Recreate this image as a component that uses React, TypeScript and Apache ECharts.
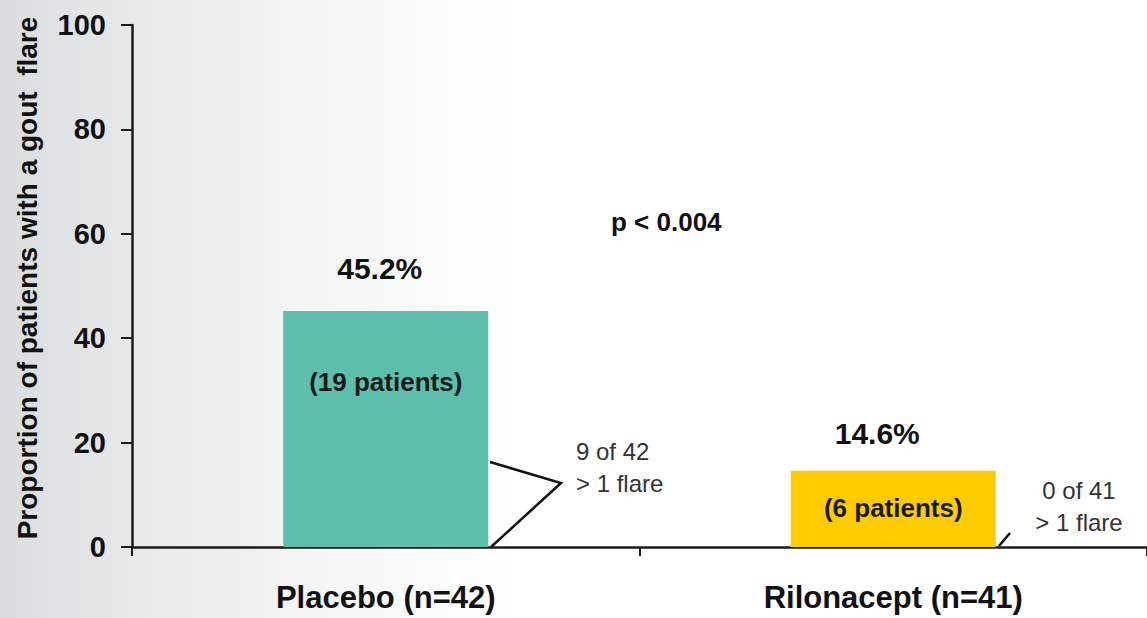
import React, { useEffect, useRef } from "react";
import * as echarts from "echarts";

const categories = ["Placebo (n=42)", "Rilonacept (n=41)"];
const values = [45.2, 14.6];
const barColors = ["#5cbfab", "#ffcc00"];
const percentLabels = ["45.2%", "14.6%"];
const patientLabels = ["(19 patients)", "(6 patients)"];
const flareNotes = ["9 of 42\n> 1 flare", "0 of 41\n> 1 flare"];
const pValueText = "p < 0.004";
const yTitle = "Proportion of patients with a gout  flare";
const yMin = 0;
const yMax = 100;
const yInterval = 20;

const FONT = "'Liberation Sans', Arial, Helvetica, sans-serif";

export default function App() {
  const ref = useRef<HTMLDivElement>(null);

  useEffect(() => {
    if (!ref.current) return;
    const chart = echarts.init(ref.current, undefined, { renderer: "svg" });
    const option: any = {
      animation: false,
      backgroundColor: "#ffffff",
      textStyle: { fontFamily: FONT },
      grid: { left: 132, top: 25, width: 1020, height: 522, containLabel: false },
      xAxis: {
        type: "category",
        data: categories,
        axisLine: { lineStyle: { color: "#1a1a1a", width: 2.5 } },
        axisTick: { show: true, length: 9, lineStyle: { color: "#1a1a1a", width: 2 } },
        axisLabel: {
          color: "#111",
          fontSize: 31,
          fontWeight: "bold",
          fontFamily: FONT,
          margin: 35,
        },
      },
      yAxis: {
        type: "value",
        min: yMin,
        max: yMax,
        interval: yInterval,
        splitLine: { show: false },
        axisLine: { show: true, lineStyle: { color: "#1a1a1a", width: 2.5 } },
        axisTick: { show: true, length: 11, lineStyle: { color: "#1a1a1a", width: 2 } },
        axisLabel: {
          color: "#111",
          fontSize: 29,
          fontWeight: "bold",
          fontFamily: FONT,
          margin: 26,
        },
      },
      graphic: [
        {
          type: "rect",
          z: -10,
          silent: true,
          shape: { x: 0, y: 0, width: 1147, height: 618 },
          style: {
            fill: new echarts.graphic.LinearGradient(0, 0, 1, 0, [
              { offset: 0, color: "#d9dddd" },
              { offset: 0.12, color: "#e8eaea" },
              { offset: 0.3, color: "#f6f7f7" },
              { offset: 0.45, color: "#ffffff" },
              { offset: 1, color: "#ffffff" },
            ]),
          },
        },
        {
          type: "text",
          x: 27,
          y: 278,
          rotation: Math.PI / 2,
          style: {
            text: yTitle,
            fontSize: 28,
            fontWeight: "bold",
            fill: "#111",
            fontFamily: FONT,
            align: "center",
            verticalAlign: "middle",
          },
        },
        {
          type: "text",
          left: 611,
          top: 209,
          style: { text: pValueText, fontSize: 26, fontWeight: "bold", fill: "#111", fontFamily: FONT },
        },
        {
          type: "polyline",
          shape: { points: [[490, 462], [561, 483], [491, 547]] },
          style: { stroke: "#111", lineWidth: 2.5, fill: "none" },
        },
        {
          type: "text",
          x: 576,
          y: 435,
          style: {
            text: flareNotes[0],
            fontSize: 24,
            lineHeight: 32,
            fill: "#333",
            fontFamily: FONT,
            align: "left",
          },
        },
        {
          type: "line",
          shape: { x1: 999, y1: 546, x2: 1010, y2: 533 },
          style: { stroke: "#111", lineWidth: 2.5 },
        },
        {
          type: "text",
          x: 1079,
          y: 474,
          style: {
            text: flareNotes[1],
            fontSize: 24,
            lineHeight: 32,
            fill: "#333",
            fontFamily: FONT,
            align: "center",
          },
        },
      ],
      series: [
        {
          type: "bar",
          barWidth: 205,
          data: values.map((v, i) => ({
            value: v,
            itemStyle: { color: barColors[i] },
            label: {
              show: true,
              position: "insideTop",
              offset: [0, i === 0 ? 53 : 19],
              formatter: patientLabels[i],
              fontSize: 26,
              fontWeight: "bold",
              color: "#1a1a1a",
              fontFamily: FONT,
            },
          })),
          z: 2,
        },
        {
          type: "bar",
          barWidth: 205,
          barGap: "-100%",
          silent: true,
          data: values.map((v, i) => ({
            value: v,
            itemStyle: { color: "rgba(0,0,0,0)" },
            label: {
              show: true,
              position: "top",
              distance: i === 0 ? 28 : 22,
              offset: [i === 0 ? -6 : -16, 0],
              formatter: percentLabels[i],
              fontSize: 30,
              fontWeight: "bold",
              color: "#111",
              fontFamily: FONT,
            },
          })),
          z: 3,
        },
      ],
    };
    chart.setOption(option);
    return () => chart.dispose();
  }, []);

  return (
    <div
      ref={ref}
      style={{ position: "fixed", left: 0, top: 0, width: 1147, height: 618 }}
    />
  );
}
